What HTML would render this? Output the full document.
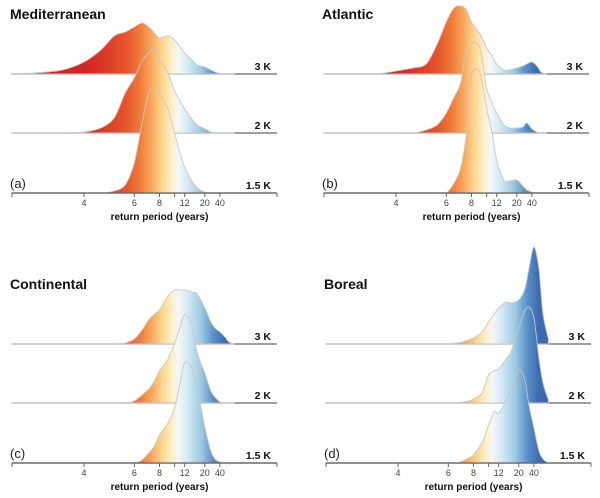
<!DOCTYPE html>
<html><head><meta charset="utf-8"><style>
body{margin:0;background:#fff;width:600px;height:498px;overflow:hidden}
svg{display:block;font-family:"Liberation Sans",sans-serif}
</style></head><body>
<svg id="chart" width="600" height="498" viewBox="0 0 600 498">
<defs>
<linearGradient id="rb" gradientUnits="userSpaceOnUse" x1="12" y1="0" x2="240" y2="0">
<stop offset="0" stop-color="#c41a1c"/><stop offset="0.35" stop-color="#d42a22"/>
<stop offset="0.5" stop-color="#e5552c"/><stop offset="0.56" stop-color="#f07a3a"/>
<stop offset="0.61" stop-color="#f9a55a"/><stop offset="0.66" stop-color="#fdd690"/>
<stop offset="0.7" stop-color="#fdeec4"/><stop offset="0.73" stop-color="#f4f7f8"/>
<stop offset="0.77" stop-color="#d3eaf5"/><stop offset="0.83" stop-color="#9dcae2"/>
<stop offset="0.88" stop-color="#5c93c9"/><stop offset="0.93" stop-color="#3d6db3"/>
<stop offset="1" stop-color="#3862aa"/>
</linearGradient>
</defs>
</svg>
<script>
const grid=[2.7,3,3.5,4,4.5,5,5.5,6,6.5,7,7.5,8,9,10,11,12,14,16,20,25,30,40,60,100,1000];
// heights (px) per scenario, order: 3K, 2K, 1.5K
const medi3=[0.5,1,4,12,24,38,42,47,51,47,41,36,38,34,27,21,14,9,7,4,2,0.5,0,0,0];
const medi2=[0,0,0,1,5,15,40,55,72,80,84,74,60,42,32,24,14,8,4,1,0,0,0,0,0];
const medi15=[0,0,0,0,0,2,8,30,70,100,106,100,84,60,40,26,12,5,1,0,0,0,0,0,0];
const atl3=[0,0,0,3,6,10,30,52,66,68,64,52,40,26,18,10,4,4,6,8,10,12,8,2,0];
const atl2=[0,0,0,0,0,3,8,20,36,50,85,90,85,45,30,20,8,5,5,6,10,4,1,0,0];
const atl15=[0,0,0,0,0,0,0,0,10,25,60,118,120,85,60,33,13,12,13,7,3,1,0,0,0];
const con3=[0,0,0,0,0,0,1,5,14,24,30,34,48,54,54,54,52,50,36,22,16,12,7,2,0];
const con2=[0,0,0,0,0,0,0,2,8,14,22,32,44,60,76,88,78,50,30,12,6,1,0,0,0];
const con15=[0,0,0,0,0,0,0,0,3,10,17,28,40,55,80,100,95,75,36,12,4,1,0,0,0];
const bor3=[0,0,0,0,0,0,0,0,1,2,4,6,12,22,30,36,42,41,44,55,75,97,75,30,5];
const bor2=[0,0,0,0,0,0,0,0,0,1,2,4,10,28,32,34,44,52,75,92,96,85,45,20,3];
const bor15=[0,0,0,0,0,0,0,0,0,2,5,8,20,38,51,50,62,75,93,83,58,35,12,4,0];
const tickVals=[4,6,8,10,12,20,40];
const tickLabels=["4","6","8","","12","20","40"];
const scenarioLabels=["3 K","2 K","1.5 K"];
const panels=[
 {name:"mediterranean",title:"Mediterranean",tag:"(a)",dx:0,dy:0,series:[medi3,medi2,medi15]},
 {name:"atlantic",title:"Atlantic",tag:"(b)",dx:312,dy:0,series:[atl3,atl2,atl15]},
 {name:"continental",title:"Continental",tag:"(c)",dx:0,dy:270,series:[con3,con2,con15]},
 {name:"boreal",title:"Boreal",tag:"(d)",dx:314,dy:270,series:[bor3,bor2,bor15]}
];
const bases=[74,133,193];
const X=t=>235-604/t;
const NS="http://www.w3.org/2000/svg";
const svg=document.getElementById('chart');
function mk(tag,attrs,parent,text){const e=document.createElementNS(NS,tag);for(const k in attrs)e.setAttribute(k,attrs[k]);if(text!==undefined)e.textContent=text;parent.appendChild(e);return e;}
function smooth(pts){
 let d=`M${pts[0][0].toFixed(1)},${pts[0][1].toFixed(1)}`;
 for(let i=0;i<pts.length-1;i++){
  const p0=pts[Math.max(0,i-1)],p1=pts[i],p2=pts[i+1],p3=pts[Math.min(pts.length-1,i+2)];
  const k=0.16;
  let c1y=p1[1]+(p2[1]-p0[1])*k, c2y=p2[1]-(p3[1]-p1[1])*k;
  const b=Math.max(p1[1],p2[1]);
  const c1x=p1[0]+(p2[0]-p0[0])*k, c2x=p2[0]-(p3[0]-p1[0])*k;
  d+=` C${c1x.toFixed(1)},${c1y.toFixed(1)} ${c2x.toFixed(1)},${c2y.toFixed(1)} ${p2[0].toFixed(1)},${p2[1].toFixed(1)}`;
 }
 return d;
}
panels.forEach(p=>{
 const g=mk('g',{transform:`translate(${p.dx},${p.dy})`},svg);
 
 
 const t=mk('text',{x:10,y:19,'font-size':14,'font-weight':'bold',fill:'#111'},g,p.title);
 
 
 const tg=mk('text',{x:10,y:188,'font-size':13,fill:'#222'},g,p.tag);
 
 
 p.series.forEach((vals,i)=>{
  const b=bases[i];
  const bl=mk('line',{x1:12,x2:277,y1:b,y2:b,stroke:'#666','stroke-width':1.3},g);
  
  
 });
 p.series.forEach((vals,i)=>{
  const b=bases[i];
  const pts=grid.map((t,j)=>[X(t),Math.min(b,b-vals[j])]);
  let d=smooth(pts)+` L${X(grid[grid.length-1]).toFixed(1)},${b} L${X(grid[0]).toFixed(1)},${b} Z`;
  const a=mk('path',{d:d,fill:'url(#rb)',stroke:'#c8c8c8','stroke-width':0.9,'stroke-linejoin':'round'},g);
  
  
  const lb=mk('text',{x:271,y:b-4,'font-size':10.5,'font-weight':'bold','text-anchor':'end',fill:'#111'},g,scenarioLabels[i]);
  
  
 });
 const ax=mk('line',{x1:12,x2:277,y1:193,y2:193,stroke:'#666','stroke-width':1.3},g);
 
 
 [12,277].forEach(x=>{const e=mk('line',{x1:x,x2:x,y1:193,y2:197,stroke:'#666'},g);
  
  });
 tickVals.forEach((v,k)=>{
  const x=X(v);
  const tk=mk('line',{x1:x,x2:x,y1:193,y2:197,stroke:'#666'},g);
  
  
  if(tickLabels[k]){const tl=mk('text',{x:x,y:206,'font-size':9,'text-anchor':'middle',fill:'#444'},g,tickLabels[k]);
   
   }
 });
 const at=mk('text',{x:X(8),y:220,'font-size':10,'font-weight':'bold','text-anchor':'middle',fill:'#111'},g,'return period (years)');
 
 
});
</script>
</body></html>
